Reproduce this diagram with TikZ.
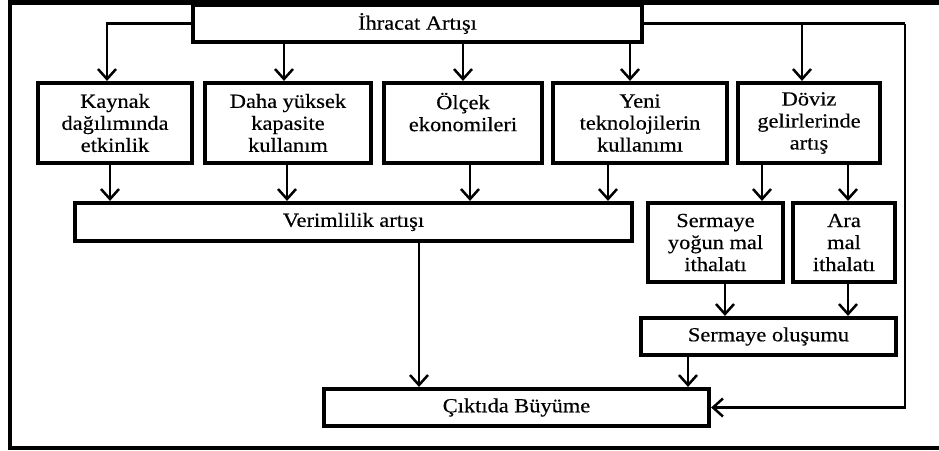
\documentclass[tikz,border=0pt]{standalone}
\usepackage{fontspec}
\setmainfont[FakeStretch=1.12,FakeBold=0.4]{Liberation Serif}
\usetikzlibrary{arrows.meta}
\begin{document}
\begin{tikzpicture}[x=1pt,y=-1pt,
  box/.style={draw,line width=4.2pt,rectangle,inner sep=0pt,align=center,
    font=\fontsize{20}{22}\selectfont},
  arr/.style={line width=2.5pt,-{Straight Barb[length=10pt,width=18pt,line width=2.5pt]}},
  ln/.style={line width=2.5pt}]
\useasboundingbox (0,0) rectangle (939,450);
\draw[line width=4.5pt] (945,2.5) -- (10,2.5) -- (10,448) -- (945,448);
% nodes
\node[box,minimum width=449pt,minimum height=37pt] (top) at (417.5,23.5) {İhracat Artışı};
\node[box,minimum width=154pt,minimum height=80pt] (b1) at (115,123) {Kaynak\\dağılımında\\etkinlik};
\node[box,minimum width=166pt,minimum height=80pt] (b2) at (288,123) {Daha yüksek\\kapasite\\kullanım};
\node[box,minimum width=158pt,minimum height=80pt] (b3) at (463,123) {Ölçek\\ekonomileri\\\mbox{}};
\node[box,minimum width=174pt,minimum height=80pt] (b4) at (640,123) {Yeni\\teknolojilerin\\kullanımı};
\node[box,minimum width=142pt,minimum height=80pt] (b5) at (809,123) {Döviz\\gelirlerinde\\artış};
\node[box,minimum width=557pt,minimum height=38pt] (ver) at (353.5,222) {Verimlilik artışı};
\node[box,minimum width=135pt,minimum height=79pt] (sy) at (715.5,242.5) {Sermaye\\yoğun mal\\ithalatı};
\node[box,minimum width=102pt,minimum height=79pt] (ara) at (844,242.5) {Ara\\mal\\ithalatı};
\node[box,minimum width=255pt,minimum height=37pt] (so) at (768.5,336.5) {Sermaye oluşumu};
\node[box,minimum width=385pt,minimum height=37pt] (ck) at (516.5,407.5) {Çıktıda Büyüme};
% helper x positions
\coordinate (xa) at (107,0);
\coordinate (xb) at (284,0);
\coordinate (xc) at (463,0);
\coordinate (xd) at (630,0);
\coordinate (xe) at (802,0);
\coordinate (xf) at (905,0);
\coordinate (xg) at (110,0);
\coordinate (xh) at (287,0);
\coordinate (xi) at (470,0);
\coordinate (xj) at (608,0);
\coordinate (xk) at (762,0);
\coordinate (xl) at (848,0);
\coordinate (xm) at (725,0);
\coordinate (xn) at (419,0);
\coordinate (xo) at (688,0);
% connectors from top
\draw[arr] (top.west) -| (b1.north -| xa);
\draw[arr] (top.south -| xb) -- (b2.north -| xb);
\draw[arr] (top.south -| xc) -- (b3.north -| xc);
\draw[arr] (top.south -| xd) -- (b4.north -| xd);
\draw[ln] (top.east) -- (top.east -| xf);
\draw[arr] (top.east -| xe) -- (b5.north -| xe);
\draw[arr] (top.east -| xf) |- (ck.east);
% to Verimlilik
\draw[arr] (b1.south -| xg) -- (ver.north -| xg);
\draw[arr] (b2.south -| xh) -- (ver.north -| xh);
\draw[arr] (b3.south -| xi) -- (ver.north -| xi);
\draw[arr] (b4.south -| xj) -- (ver.north -| xj);
% doviz branch
\draw[arr] (b5.south -| xk) -- (sy.north -| xk);
\draw[arr] (b5.south -| xl) -- (ara.north -| xl);
\draw[arr] (sy.south -| xm) -- (so.north -| xm);
\draw[arr] (ara.south -| xl) -- (so.north -| xl);
% to output
\draw[arr] (ver.south -| xn) -- (ck.north -| xn);
\draw[arr] (so.south -| xo) -- (ck.north -| xo);
\end{tikzpicture}
\end{document}
